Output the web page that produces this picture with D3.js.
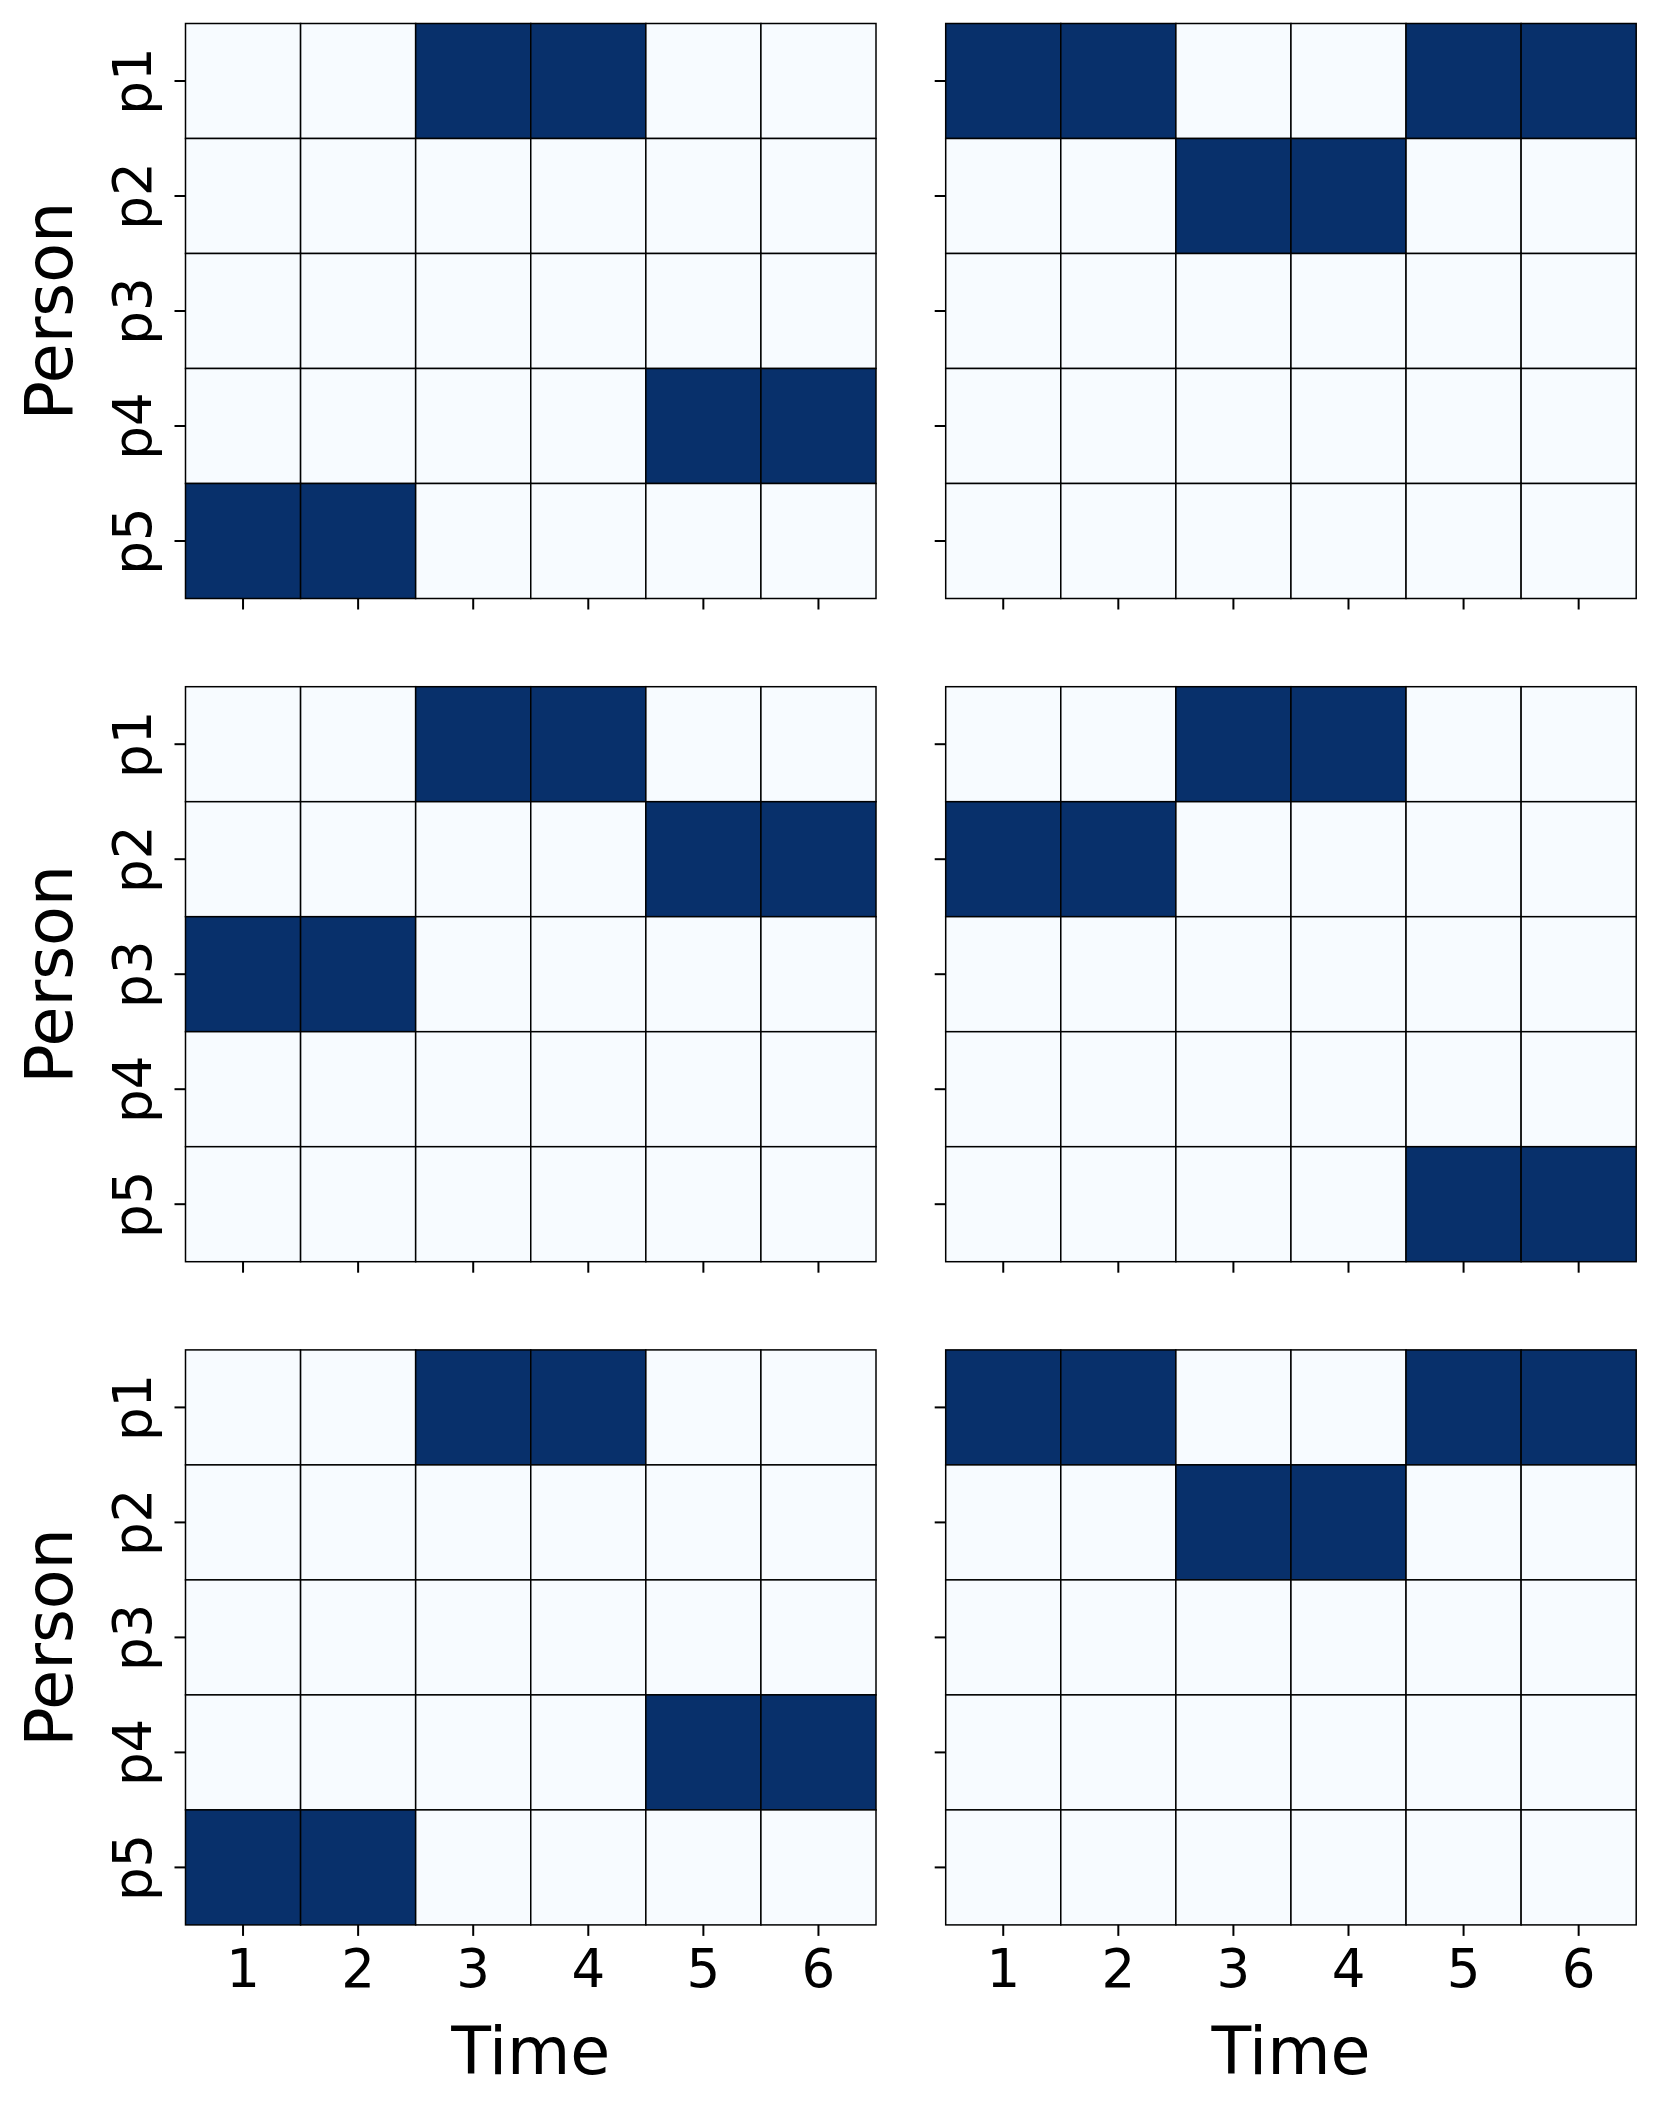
<!DOCTYPE html>
<html>
<head>
<meta charset="utf-8">
<script src="https://cdn.jsdelivr.net/npm/d3@7"></script>
<style>
  body { margin: 0; background: #fff; }
  svg { display: block; font-family: "DejaVu Sans", sans-serif; }
</style>
</head>
<body>
<svg id="chart" width="1660" height="2110"></svg>
<script>
"use strict";

var times = [1, 2, 3, 4, 5, 6];
var persons = ["p1", "p2", "p3", "p4", "p5"];

// one 5x6 matrix per panel, 1 = dark cell
var panelA = [
    [0, 0, 1, 1, 0, 0],
    [0, 0, 0, 0, 0, 0],
    [0, 0, 0, 0, 0, 0],
    [0, 0, 0, 0, 1, 1],
    [1, 1, 0, 0, 0, 0]
];
var panelB = [
    [1, 1, 0, 0, 1, 1],
    [0, 0, 1, 1, 0, 0],
    [0, 0, 0, 0, 0, 0],
    [0, 0, 0, 0, 0, 0],
    [0, 0, 0, 0, 0, 0]
];
var panelC = [
    [0, 0, 1, 1, 0, 0],
    [0, 0, 0, 0, 1, 1],
    [1, 1, 0, 0, 0, 0],
    [0, 0, 0, 0, 0, 0],
    [0, 0, 0, 0, 0, 0]
];
var panelD = [
    [0, 0, 1, 1, 0, 0],
    [1, 1, 0, 0, 0, 0],
    [0, 0, 0, 0, 0, 0],
    [0, 0, 0, 0, 0, 0],
    [0, 0, 0, 0, 1, 1]
];
var panelE = [
    [0, 0, 1, 1, 0, 0],
    [0, 0, 0, 0, 0, 0],
    [0, 0, 0, 0, 0, 0],
    [0, 0, 0, 0, 1, 1],
    [1, 1, 0, 0, 0, 0]
];
var panelF = [
    [1, 1, 0, 0, 1, 1],
    [0, 0, 1, 1, 0, 0],
    [0, 0, 0, 0, 0, 0],
    [0, 0, 0, 0, 0, 0],
    [0, 0, 0, 0, 0, 0]
];

var panels = [panelA, panelB, panelC, panelD, panelE, panelF];

var colLeft = [185.5, 945.7];
var rowTop = [23.5, 686.7, 1349.9];
var pw = 690.5, ph = 575;

var color = d3.scaleLinear().domain([0, 1]).range(["#f7fbff", "#08306b"]);

var svg = d3.select("#chart");

panels.forEach(function (m, i) {
    var r = Math.floor(i / 2), c = i % 2;
    var g = svg.append("g")
        .attr("transform", "translate(" + colLeft[c] + "," + rowTop[r] + ")");

    var x = d3.scaleBand().domain(times).range([0, pw]);
    var y = d3.scaleBand().domain(persons).range([0, ph]);

    var cells = [];
    m.forEach(function (row, ri) {
        row.forEach(function (v, ci) {
            cells.push({ p: persons[ri], t: times[ci], v: v });
        });
    });

    g.selectAll("rect.cell")
        .data(cells)
        .enter()
        .append("rect")
        .classed("cell", true)
        .attr("x", function (d) { return x(d.t); })
        .attr("y", function (d) { return y(d.p); })
        .attr("width", x.bandwidth())
        .attr("height", y.bandwidth())
        .attr("fill", function (d) { return color(d.v); })
        .attr("stroke", "#000")
        .attr("stroke-width", 1.5);

    // x axis
    var bottom = r === 2;
    var xa = g.append("g")
        .attr("transform", "translate(0," + ph + ")")
        .call(d3.axisBottom(x).tickSize(11).tickFormat(bottom ? null : ""));
    xa.select(".domain").remove();
    xa.selectAll(".tick line").attr("stroke", "#000").attr("stroke-width", 2);
    xa.selectAll(".tick text")
        .attr("dy", null)
        .attr("y", 62)
        .attr("fill", "#000")
        .style("font-size", "53px")
        .style("font-family", "DejaVu Sans");

    // y axis
    var ya = g.append("g")
        .call(d3.axisLeft(y).tickSize(11).tickFormat(""));
    ya.select(".domain").remove();
    ya.selectAll(".tick line").attr("stroke", "#000").attr("stroke-width", 2);

    if (c === 0) {
        g.selectAll("text.ylab")
            .data(persons)
            .enter()
            .append("text")
            .classed("ylab", true)
            .attr("transform", function (d) {
                return "translate(" + (151 - colLeft[0]) + "," + (y(d) + y.bandwidth() / 2) + ") rotate(-90)";
            })
            .attr("text-anchor", "middle")
            .style("font-size", "53px")
            .text(function (d) { return d; });

        g.append("text")
            .attr("transform", "translate(" + (72 - colLeft[0]) + "," + (ph / 2) + ") rotate(-90)")
            .attr("text-anchor", "middle")
            .style("font-size", "65px")
            .text("Person");
    }

    if (bottom) {
        g.append("text")
            .attr("x", pw / 2)
            .attr("y", ph + 149)
            .attr("text-anchor", "middle")
            .style("font-size", "65px")
            .text("Time");
    }
});
</script>
</body>
</html>
